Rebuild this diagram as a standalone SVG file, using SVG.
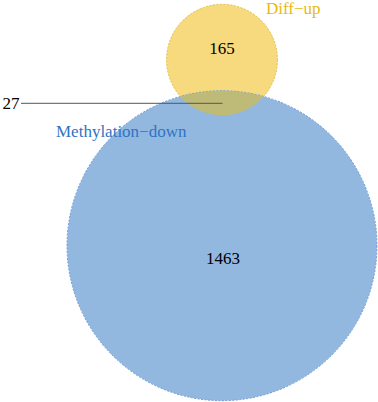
<svg xmlns="http://www.w3.org/2000/svg" width="378" height="402" viewBox="0 0 378 402">
<style>
text{font-family:"Liberation Serif","Times New Roman",serif}
.num{font-size:17px;fill:#000}
.lab{font-size:17px}
.ring{stroke-width:1;stroke-dasharray:2 1.5}
</style>
<defs>
<clipPath id="clipY"><circle cx="222" cy="59.8" r="55.5"/></clipPath>
</defs>
<rect width="378" height="402" fill="#fff"/>
<g id="node-diffup">
<circle class="ring" cx="222" cy="59.8" r="55.5" fill="#F6DA7D" stroke="#EAC957"/>
<text class="num" x="222" y="54" text-anchor="middle">165</text>
<text class="lab" x="266" y="14" fill="#E8BA12">Diff−up</text>
</g>
<g id="node-methyl">
<circle class="ring" cx="222" cy="245.7" r="155" fill="#92B8E0" stroke="#6A9BD6"/>
<text class="num" x="223" y="264" text-anchor="middle">1463</text>
<text class="lab" x="56" y="137" fill="#2F74C4">Methylation−down</text>
</g>
<g id="node-overlap">
<circle cx="222" cy="245.7" r="155" fill="#BEBB78" clip-path="url(#clipY)"/>
<circle class="ring" cx="222" cy="59.8" r="55.5" fill="none" stroke="#D9C060" clip-path="url(#clipY)" opacity="0.6"/>
<text class="num" x="2.5" y="109">27</text>
</g>
<g id="connectors">
<line x1="21" y1="103.3" x2="222.5" y2="103.3" stroke="#555" stroke-width="1"/>
</g>
</svg>
